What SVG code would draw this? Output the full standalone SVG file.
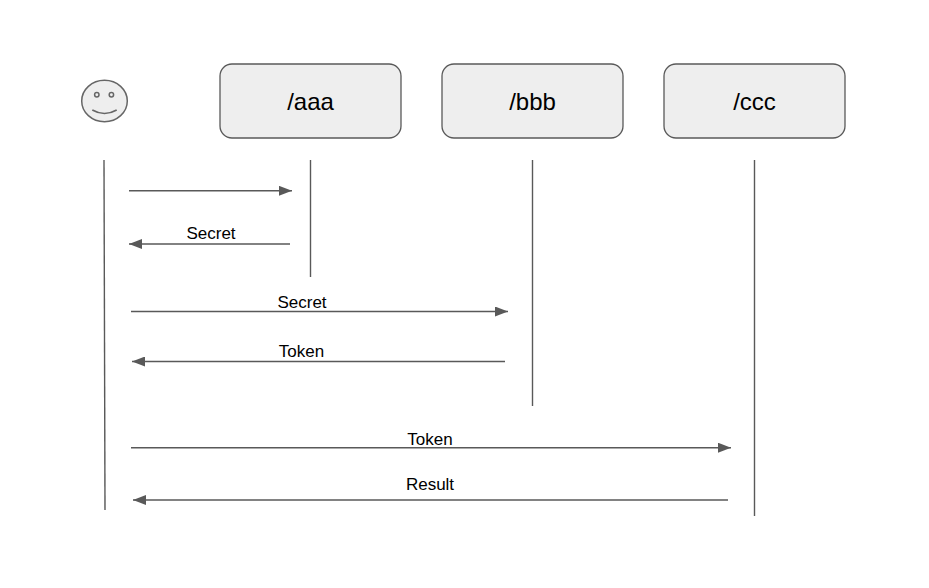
<svg xmlns="http://www.w3.org/2000/svg" width="929" height="588" viewBox="0 0 929 588">
<style>
.box{fill:#eeeeee;stroke:#595959;stroke-width:1.3}
.face{fill:#eeeeee;stroke:#666666;stroke-width:1.5}
.title{font-family:"Liberation Sans",Arial,sans-serif;font-size:24px;fill:#000;text-anchor:middle}
.lbl{font-family:"Liberation Sans",Arial,sans-serif;font-size:17px;fill:#000;text-anchor:middle}
.life{stroke:#595959;stroke-width:1.4;fill:none}
.msg{stroke:#595959;stroke-width:1.4;fill:none;marker-end:url(#arrow)}
</style>
<defs>
<marker id="arrow" markerUnits="userSpaceOnUse" markerWidth="13" markerHeight="10" refX="13" refY="5" orient="auto">
<path d="M0 0L13 5L0 10Z" fill="#595959"/>
</marker>
</defs>
<rect width="929" height="588" fill="#ffffff"/>
<g id="actor">
<ellipse class="face" cx="104.500" cy="101" rx="22.800" ry="20.700"/>
<circle class="face" cx="96.800" cy="94.700" r="2.200"/>
<circle class="face" cx="111.400" cy="94.700" r="2.200"/>
<path class="face" style="fill:none" d="M92.300 110Q104.500 117 116.700 110"/>
</g>
<g id="aaa"><rect class="box" x="220" y="64" width="181" height="74" rx="12" ry="12"/><text class="title" x="310.500" y="110">/aaa</text></g>
<g id="bbb"><rect class="box" x="442" y="64" width="181" height="74" rx="12" ry="12"/><text class="title" x="532.500" y="110">/bbb</text></g>
<g id="ccc"><rect class="box" x="664" y="64" width="181" height="74" rx="12" ry="12"/><text class="title" x="754.500" y="110">/ccc</text></g>
<g id="connectors">
<path class="life" d="M104 160L105 510"/>
<path class="life" d="M310.500 160V277"/>
<path class="life" d="M532.500 160V406"/>
<path class="life" d="M754.500 160V516"/>
<path class="msg" d="M129 190.800H292"/>
<path class="msg" d="M290 244H129"/>
<path class="msg" d="M131 311.500H508"/>
<path class="msg" d="M505 361.500H132"/>
<path class="msg" d="M131 447.700H731"/>
<path class="msg" d="M728 500H133"/>
</g>
<g id="labels">
<text class="lbl" x="211" y="239">Secret</text>
<text class="lbl" x="302" y="308">Secret</text>
<text class="lbl" x="301.500" y="357">Token</text>
<text class="lbl" x="430" y="445">Token</text>
<text class="lbl" x="430" y="490">Result</text>
</g>
</svg>
